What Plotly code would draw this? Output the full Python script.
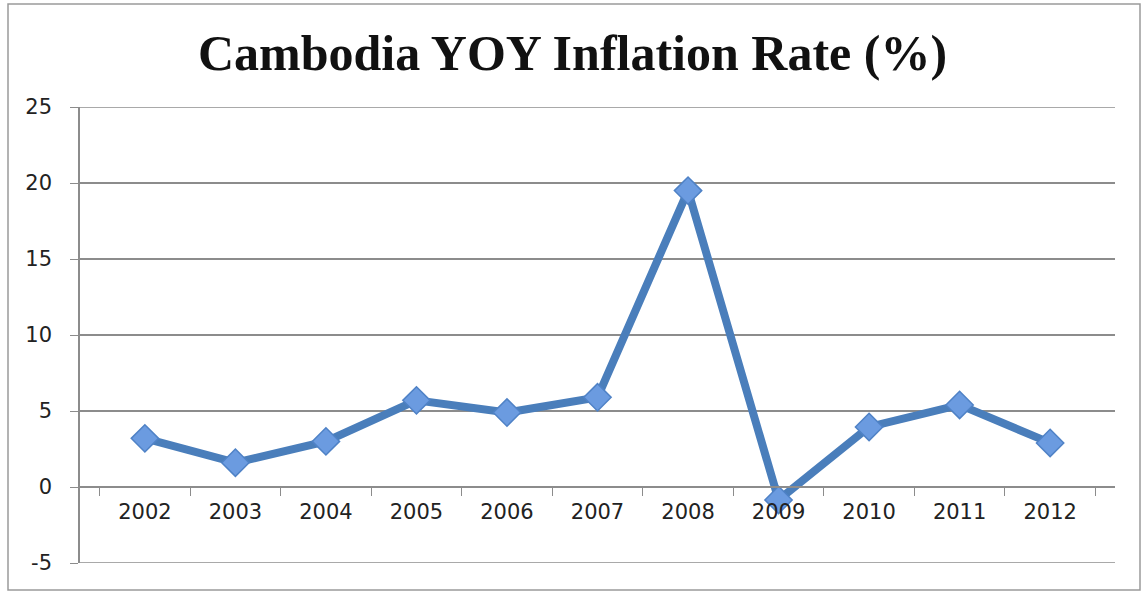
import plotly.graph_objects as go

# data
years = ["2002", "2003", "2004", "2005", "2006", "2007", "2008", "2009", "2010", "2011", "2012"]
inflation = [3.2, 1.6, 3.0, 5.7, 4.9, 5.9, 19.5, -0.85, 3.95, 5.4, 2.9]
y_ticks = [-5, 0, 5, 10, 15, 20, 25]
y_labels = ["-5", "0", "5", "10", "15", "20", "25"]

W, H = 1145, 592
L, R, T, B = 80, 30, 107, 29
pw, ph = W - L - R, H - T - B

fig = go.Figure()

fig.add_trace(go.Scatter(
    x=years, y=inflation,
    mode="lines+markers",
    line=dict(color="#4a7ebb", width=8),
    marker=dict(symbol="diamond", size=21, color="#6b9be0",
                line=dict(color="#4f82c6", width=1.5)),
    showlegend=False,
))

grid = "#8c8c8c"
fig.update_layout(
    width=W, height=H,
    margin=dict(l=L, r=R, t=T, b=B, autoexpand=False),
    paper_bgcolor="white", plot_bgcolor="white",
    title=dict(text="<b>Cambodia YOY Inflation Rate (%)</b>",
               font=dict(family="Liberation Serif", size=50, color="#111"),
               x=0.5, xanchor="center", y=1 - 52 / H, yanchor="middle"),
    font=dict(family="DejaVu Sans", size=21, color="#222"),
    xaxis=dict(
        type="category", automargin=False,
        anchor="free", position=5 / 30,  # x axis crosses at y = 0
        showline=True, linecolor=grid, linewidth=1.5,
        ticks="outside", tickson="boundaries", ticklen=8, tickcolor=grid,
        showgrid=False, zeroline=False, ticklabelstandoff=6,
    ),
    yaxis=dict(
        range=[-5, 25], tickvals=y_ticks, ticktext=y_labels, automargin=False,
        showline=True, linecolor=grid, linewidth=1.5,
        ticks="outside", ticklen=8, tickcolor=grid,
        showgrid=True, gridcolor=grid, gridwidth=1.5,
        zeroline=False, ticklabelstandoff=14,
    ),
)

# gridlines on the range edges
for v in (y_ticks[0], y_ticks[-1]):
    fig.add_hline(y=v, line=dict(color=grid, width=1.5), layer="below")

# outer chart border
fig.add_shape(type="rect", xref="paper", yref="paper",
              x0=(8 - L) / pw, x1=(1140 - L) / pw,
              y0=(H - B - 590) / ph, y1=(H - B - 4) / ph,
              line=dict(color="#9a9a9a", width=1.5), fillcolor="rgba(0,0,0,0)")

# drop the default page margin so the figure sits at the window corner
fig.write_html("out.html", config={"displayModeBar": False},
               post_script="document.body.style.margin='0';")
